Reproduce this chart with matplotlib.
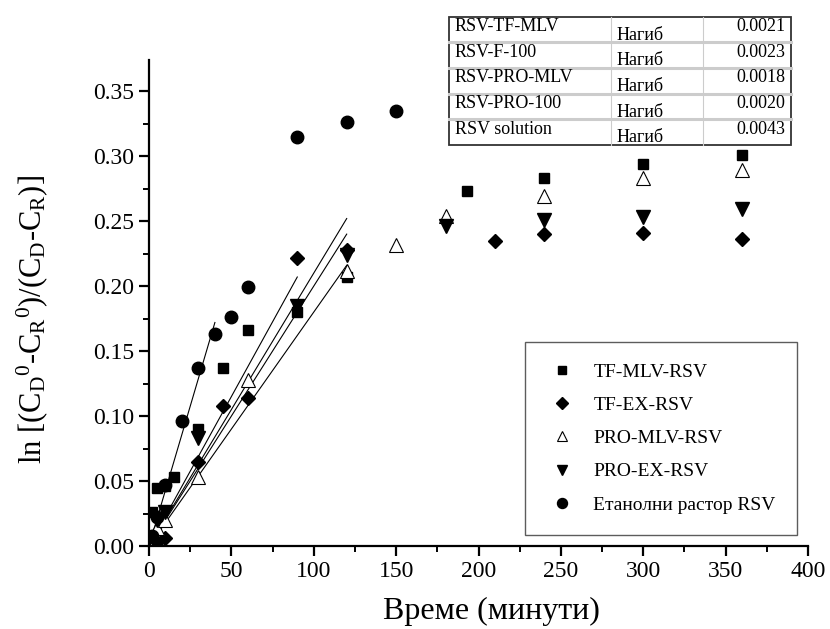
import numpy as np
import matplotlib
matplotlib.use('Agg')
import matplotlib.pyplot as plt

plt.rcParams['font.family'] = ['Liberation Serif', 'DejaVu Serif']
plt.rcParams['mathtext.fontset'] = 'custom'
plt.rcParams['mathtext.rm'] = 'Liberation Serif'
plt.rcParams['mathtext.it'] = 'Liberation Serif'

# release data, time in minutes
t_tf_mlv = [2, 5, 10, 15, 30, 45, 60, 90, 120, 193, 240, 300, 360]
y_tf_mlv = [0.026, 0.045, 0.046, 0.053, 0.090, 0.137, 0.166, 0.180, 0.207, 0.273, 0.283, 0.294, 0.301]

t_tf_ex = [5, 10, 30, 45, 60, 90, 120, 210, 240, 300, 360]
y_tf_ex = [0.003, 0.006, 0.065, 0.108, 0.114, 0.222, 0.228, 0.235, 0.240, 0.241, 0.236]

t_pro_mlv = [5, 10, 30, 60, 120, 150, 180, 240, 300, 360]
y_pro_mlv = [0.014, 0.020, 0.053, 0.128, 0.212, 0.232, 0.254, 0.269, 0.283, 0.289]

t_pro_ex = [5, 10, 30, 90, 120, 180, 240, 300, 360]
y_pro_ex = [0.020, 0.026, 0.083, 0.185, 0.224, 0.246, 0.251, 0.253, 0.259]

t_sol = [2, 5, 10, 20, 30, 40, 50, 60, 90, 120, 150]
y_sol = [0.008, 0.022, 0.047, 0.096, 0.137, 0.163, 0.176, 0.199, 0.315, 0.326, 0.335]

labels = ['TF-MLV-RSV', 'TF-EX-RSV', 'PRO-MLV-RSV', 'PRO-EX-RSV', 'Етанолни растор RSV']

# linear fits: slope, intercept, end of fitted range
fit_slope = [0.0021, 0.0023, 0.0018, 0.0020, 0.0043]
fit_icpt = [0.0, 0.0, 0.0, 0.0, 0.0]
fit_end = [120, 90, 120, 120, 40]

tab_names = ['RSV-TF-MLV', 'RSV-F-100', 'RSV-PRO-MLV', 'RSV-PRO-100', 'RSV solution']
tab_word = 'Нагиб'

W, H = 830, 629
fig = plt.figure(figsize=(W / 100, H / 100), dpi=100)
ax = fig.add_axes([149 / W, 1 - 546 / H, (808 - 149) / W, (546 - 60) / H])

for s, b, te in zip(fit_slope, fit_icpt, fit_end):
    tt = np.array([0, te])
    ax.plot(tt, s * tt + b, color='black', lw=0.8, zorder=2)

ax.plot(t_tf_mlv, y_tf_mlv, 's', ms=7.5, color='black', ls='none', label=labels[0], zorder=3)
ax.plot(t_tf_ex, y_tf_ex, 'D', ms=7.5, color='black', ls='none', label=labels[1], zorder=3)
ax.plot(t_pro_mlv, y_pro_mlv, '^', ms=9.5, mfc='white', mec='black', mew=0.8,
        ls='none', label=labels[2], zorder=3)
ax.plot(t_pro_ex, y_pro_ex, 'v', ms=9.5, color='black', ls='none', label=labels[3], zorder=3)
ax.plot(t_sol, y_sol, 'o', ms=9, color='black', ls='none', label=labels[4], zorder=3)

ax.set_xlim(0, 400)
ax.set_ylim(0, 0.374)
ax.spines['top'].set_visible(False)
ax.spines['right'].set_visible(False)
for sp in ['left', 'bottom']:
    ax.spines[sp].set_linewidth(1.6)
ax.set_xticks(np.arange(0, 401, 50))
ax.set_xticks(np.arange(25, 400, 50), minor=True)
ax.set_yticks(np.arange(0, 0.351, 0.05))
ax.set_yticks(np.arange(0.025, 0.375, 0.05), minor=True)
ax.set_yticklabels(['%.2f' % v for v in np.arange(0, 0.351, 0.05)])
ax.tick_params(which='major', direction='out', length=7, width=1.6, labelsize=17)
ax.tick_params(which='minor', direction='out', length=4, width=1.4)
ax.set_xlabel('Време (минути)', fontsize=23, labelpad=10)
ax.xaxis.set_label_coords(0.52, -0.105)
ax.set_ylabel(r'ln [(C$_\mathrm{D}{}^\mathrm{0}$-C$_\mathrm{R}{}^\mathrm{0}$)/(C$_\mathrm{D}$-C$_\mathrm{R}$)]',
              fontsize=22)
ax.yaxis.set_label_coords(-0.15, 0.465)

leg = ax.legend(loc='lower right', bbox_to_anchor=((797 - 149) / 659, (546 - 535) / 486),
                fontsize=14, frameon=True, fancybox=False, edgecolor='#333333',
                markerscale=0.8, handletextpad=0.8, labelspacing=0.8, borderpad=1.1,
                handlelength=1.6, borderaxespad=0)
leg.get_frame().set_linewidth(1.0)

# slope table
tx = fig.add_axes([449 / W, 1 - 145 / H, (791 - 449) / W, (145 - 16.7) / H])
tx.set_xlim(0, 342)
tx.set_ylim(5, 0)
tx.axis('off')
tx.add_patch(plt.Rectangle((0, 0), 342, 5, fill=False, ec='#333333', lw=1.3, clip_on=False))
for r in range(1, 5):
    tx.plot([0, 342], [r, r], color='#cccccc', lw=2.2, clip_on=False)
for c in [162, 254]:
    tx.plot([c, c], [0, 5], color='#cccccc', lw=0.8, clip_on=False)
for i, (nm, s) in enumerate(zip(tab_names, fit_slope)):
    tx.text(6, i + 0.38, nm, fontsize=13, va='center', ha='left')
    tx.text(168, i + 0.72, tab_word, fontsize=13, va='center', ha='left')
    tx.text(336, i + 0.38, '%.4f' % s, fontsize=13, va='center', ha='right')

fig.savefig('out.png', dpi=100)
